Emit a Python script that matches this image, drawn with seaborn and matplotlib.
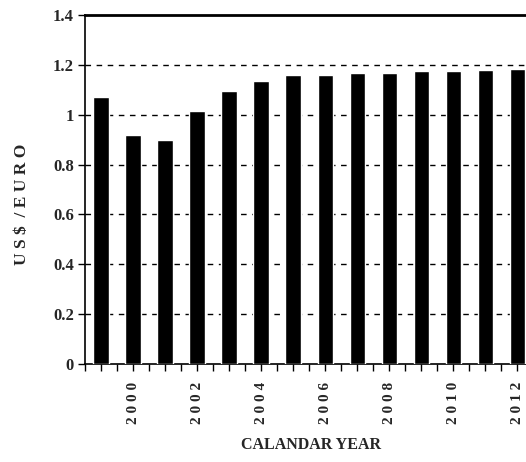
import numpy as np
import pandas as pd
import matplotlib
matplotlib.use("Agg")
import matplotlib.pyplot as plt
import seaborn as sns

years = [1999, 2000, 2001, 2002, 2003, 2004, 2005, 2006, 2007, 2008, 2009, 2010, 2011, 2012]
rates = [1.07, 0.917, 0.898, 1.016, 1.095, 1.136, 1.158, 1.158, 1.166, 1.166, 1.175, 1.175, 1.18, 1.182]
y_ticks = [0, 0.2, 0.4, 0.6, 0.8, 1.0, 1.2, 1.4]
y_tick_labels = ["0", "0.2", "0.4", "0.6", "0.8", "1", "1.2", "1.4"]
x_label_years = [2000, 2002, 2004, 2006, 2008, 2010, 2012]

sns.set_theme(style="white")
plt.rcParams['font.family'] = ['Liberation Serif', 'DejaVu Serif']
plt.rcParams['font.weight'] = 'bold'

df = pd.DataFrame({"year": years, "rate": rates})

fig = plt.figure(figsize=(5.26, 4.62), dpi=100)
ax = fig.add_axes([85/526, 1-364/462, 1-85/526, (364-15)/462])

sns.barplot(data=df, x="year", y="rate", native_scale=True, color="black",
            width=0.47, saturation=1, ax=ax, zorder=3)

ax.set_xlim(1998.5, 2012.28)
ax.set_ylim(0, 1.4)

for v in y_ticks[1:-1]:
    ax.axhline(v, color="black", lw=1.0, ls=(0, (4, 4)), zorder=1)

xt = np.arange(1998.5, 2012.3, 0.5)
labels = []
for t in xt:
    if float(t).is_integer() and int(t) in x_label_years:
        labels.append(" ".join(str(int(t))))
    else:
        labels.append("")
ax.set_xticks(xt)
ax.set_xticklabels(labels, rotation=90, fontsize=11, fontweight="bold")
ax.set_yticks(y_ticks)
ax.set_yticklabels(y_tick_labels, fontsize=12, fontweight="bold")
ax.tick_params(axis="both", direction="out", length=5, width=1, color="black",
               bottom=True, left=True, pad=3)
ax.tick_params(axis="x", pad=8)

for s in ["left", "bottom"]:
    ax.spines[s].set_visible(True)
    ax.spines[s].set_color("black")
    ax.spines[s].set_linewidth(1.2)
ax.spines["top"].set_color("black")
ax.spines["top"].set_linewidth(2.0)
ax.spines["right"].set_visible(False)

ax.set_xlabel("CALANDAR YEAR", fontsize=11.5, fontweight="bold", va="center")
ax.xaxis.set_label_coords((311-85)/441, (364-445)/349)
ax.set_ylabel("U S $  / E U R O", fontsize=12.5, fontweight="bold", va="center")
ax.yaxis.set_label_coords((22-85)/441, (364-204)/349)

fig.savefig("out.png", dpi=100)
